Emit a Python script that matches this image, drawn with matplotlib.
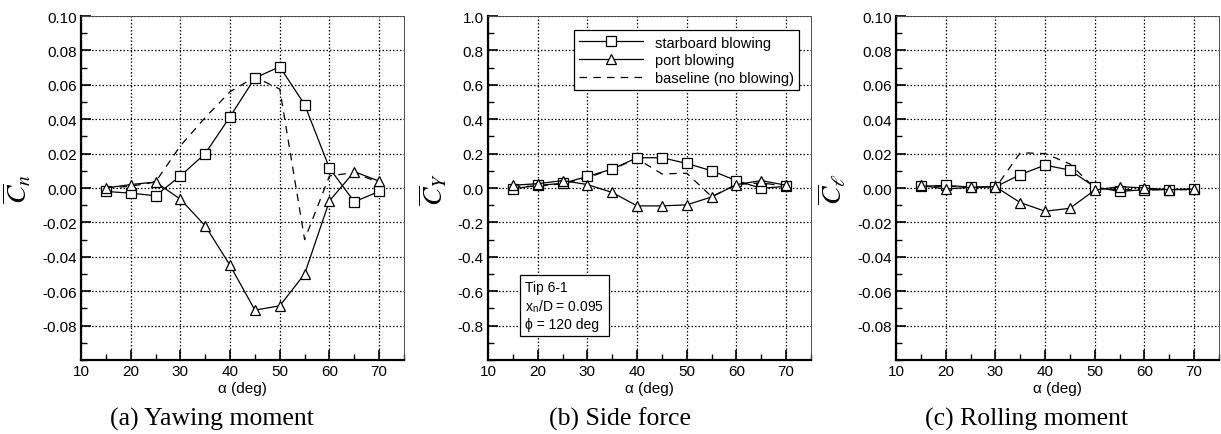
import numpy as np
import matplotlib.pyplot as plt
from matplotlib.ticker import MultipleLocator

plt.rcParams['font.family'] = ['Liberation Sans', 'DejaVu Sans']
plt.rcParams['mathtext.fontset'] = 'stix'

# angle of attack (deg)
alpha = [15, 20, 25, 30, 35, 40, 45, 50, 55, 60, 65, 70]

# (a) yawing moment
cn_starboard = [-0.002, -0.003, -0.0045, 0.007, 0.020, 0.0415, 0.064, 0.0705, 0.0485, 0.0115, -0.008, -0.002]
cn_port = [0.000, 0.002, 0.0035, -0.0065, -0.022, -0.045, -0.071, -0.0685, -0.050, -0.0075, 0.0095, 0.004]
cn_baseline = [0.000, 0.001, 0.0035, 0.0245, 0.041, 0.056, 0.0645, 0.0575, -0.030, 0.007, 0.009, 0.003]

# (b) side force
cy_starboard = [-0.005, 0.015, 0.027, 0.067, 0.110, 0.176, 0.176, 0.143, 0.100, 0.043, -0.002, 0.010]
cy_port = [0.016, 0.025, 0.043, 0.020, -0.026, -0.104, -0.104, -0.098, -0.052, 0.020, 0.043, 0.016]
cy_baseline = [0.010, 0.010, 0.025, 0.060, 0.110, 0.170, 0.082, 0.086, -0.050, 0.020, 0.030, 0.010]

# (c) rolling moment
cl_starboard = [0.001, 0.0015, 0.0006, 0.0006, 0.0078, 0.0133, 0.0104, 0.0006, -0.002, -0.001, -0.001, -0.0006]
cl_port = [0.0015, -0.0006, 0.0004, 0.0008, -0.0085, -0.0135, -0.0118, -0.0012, 0.0008, 0.0, -0.001, -0.0006]
cl_baseline = [0.001, 0.001, 0.0006, 0.0, 0.0205, 0.020, 0.014, 0.0, -0.001, -0.001, -0.001, -0.001]

panels = [
    (cn_starboard, cn_port, cn_baseline, r'$\overline{C}_n$', 0.1, 0.02, '%.2f', '(a) Yawing moment'),
    (cy_starboard, cy_port, cy_baseline, r'$\overline{C}_Y$', 1.0, 0.2, '%.1f', '(b) Side force'),
    (cl_starboard, cl_port, cl_baseline, r'$\overline{C}_\ell$', 0.1, 0.02, '%.2f', '(c) Rolling moment'),
]

W, H = 1221, 435
fig = plt.figure(figsize=(W / 100, H / 100), dpi=100)

lefts = [81, 488, 896]
caption_x = [212, 620, 1027]
ax_w, ax_top, ax_bot = 323, 17, 361

mk = dict(markersize=7.5, markerfacecolor='white', markeredgecolor='black', markeredgewidth=0.9)

for i, (star, port, base, ylab, ymax, ystep, fmt, caption) in enumerate(panels):
    ax = fig.add_axes([lefts[i] / W, (H - ax_bot) / H, ax_w / W, (ax_bot - ax_top) / H])

    ax.plot(alpha, base, color='black', lw=0.9, linestyle=(0, (6, 5)), label='baseline (no blowing)', zorder=2)
    ax.plot(alpha, star, color='black', lw=0.9, marker='s', label='starboard blowing', zorder=3, **mk)
    ax.plot(alpha, port, color='black', lw=0.9, marker='^', label='port blowing', zorder=3, **mk)

    ax.set_xlim(10, 75)
    ax.set_ylim(-ymax, ymax)
    ax.xaxis.set_major_locator(MultipleLocator(10))
    ax.xaxis.set_minor_locator(MultipleLocator(5))
    ax.yaxis.set_major_locator(MultipleLocator(ystep))
    ax.yaxis.set_minor_locator(MultipleLocator(ystep / 2))
    yt = np.arange(-ymax + ystep, ymax + ystep / 2, ystep)
    ax.set_yticks(yt)
    ax.set_yticklabels([fmt % v if abs(v) > 1e-9 else fmt % 0 for v in yt])

    ax.tick_params(which='both', direction='in', top=False, right=False, labelsize=11, pad=3)
    ax.tick_params(which='major', length=7, width=1.2)
    ax.tick_params(which='minor', length=4, width=1.0)

    ax.grid(True, which='major', color='black', linestyle=(0, (1.2, 1.6)), linewidth=0.9)
    for s in ['left', 'bottom']:
        ax.spines[s].set_linewidth(1.6)
    for s in ['top', 'right']:
        ax.spines[s].set_linewidth(0.7)
        ax.spines[s].set_color('0.3')

    ax.set_xlabel('α (deg)', fontsize=11, labelpad=2)
    ax.set_ylabel(ylab, fontsize=20, labelpad=6)

    fig.text(caption_x[i] / W, 0.035, caption, ha='center', va='center',
             fontsize=18.5, family='Liberation Serif')

    if i == 1:
        h, l = ax.get_legend_handles_labels()
        order = [1, 2, 0]
        leg = ax.legend([h[k] for k in order], [l[k] for k in order], loc='upper right',
                        bbox_to_anchor=(0.962, 0.958), fontsize=10.5, handlelength=4.4,
                        fancybox=False, framealpha=1, edgecolor='black',
                        borderpad=0.35, labelspacing=0.25, handletextpad=0.8, borderaxespad=0)
        leg.get_frame().set_linewidth(0.9)
        ax.text(0.115, 0.085, 'Tip 6-1\nx$_\\mathregular{n}$/D = 0.095\nϕ = 120 deg',
                transform=ax.transAxes, fontsize=10, va='bottom', ha='left', linespacing=1.25,
                family=['Liberation Sans', 'DejaVu Sans'],
                bbox=dict(boxstyle='square,pad=0.35', facecolor='white', edgecolor='black', linewidth=0.9),
                zorder=5)

fig.savefig('out.png', dpi=100)
